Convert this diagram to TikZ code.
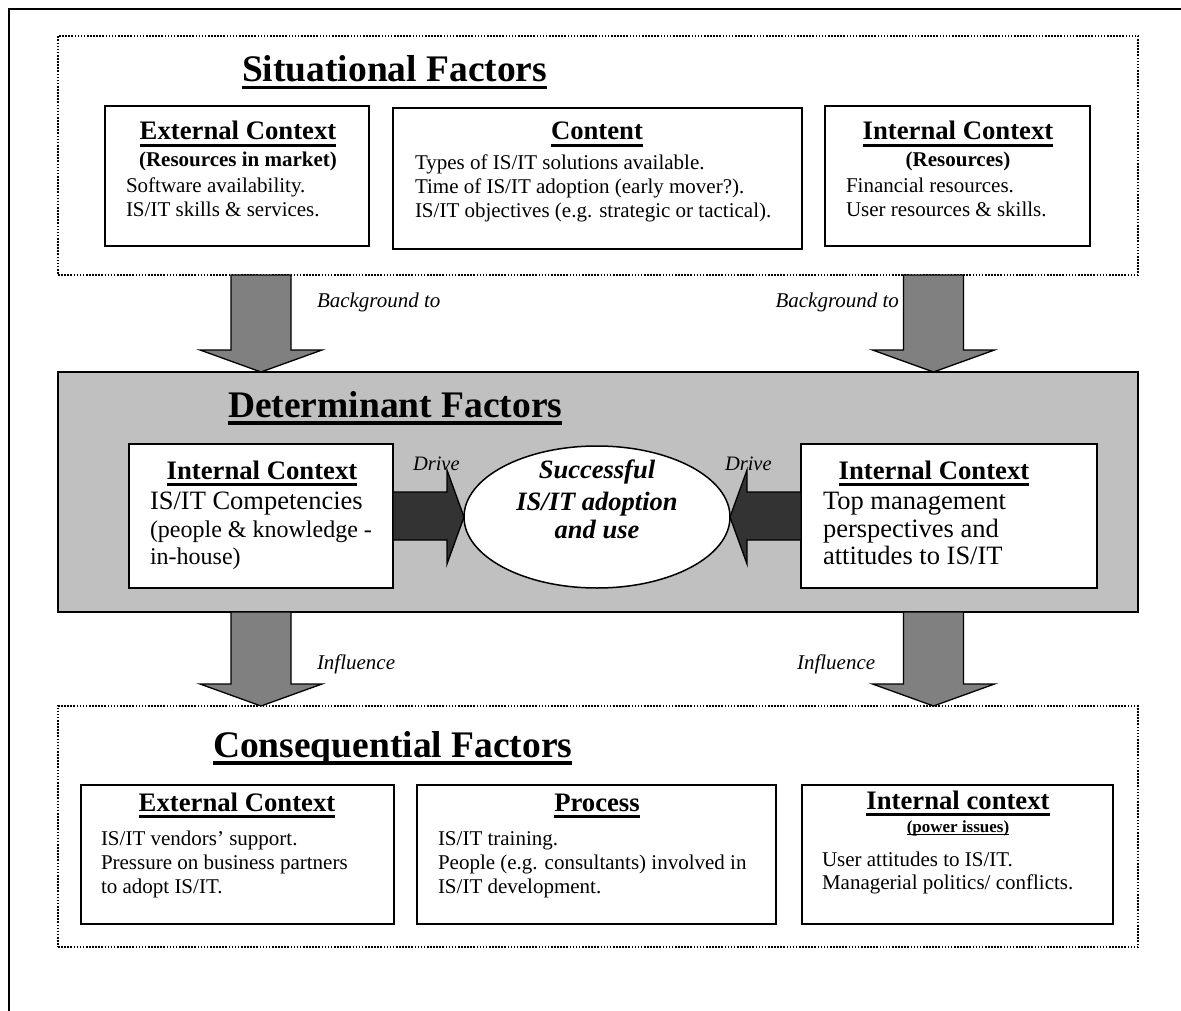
\documentclass[tikz,border=0pt]{standalone}
\usepackage{fontspec}
\setmainfont{Liberation Serif}
\usetikzlibrary{shapes.geometric}

% font sizes (1 unit = 1pt)
\newcommand\fTitle{\fontsize{37.5}{40}\selectfont\bfseries}
\newcommand\fHead{\fontsize{26.7}{30}\selectfont\bfseries}
\newcommand\fSub{\fontsize{21}{24}\selectfont\bfseries}
\newcommand\fBody{\fontsize{21}{24}\selectfont}
\newcommand\fBig{\fontsize{26.5}{28}\selectfont}
\newcommand\fMid{\fontsize{24}{27}\selectfont}
\newcommand\fEll{\fontsize{26.5}{30}\selectfont\bfseries\itshape}
\newcommand\fLab{\fontsize{21}{24}\selectfont\itshape}

% underlined text: #1 = depth of rule bottom, #2 = thickness, #3 = text
\newcommand\ulx[3]{\setbox0\hbox{#3}\rlap{\rule[-#1]{\wd0}{#2}}\box0}
\newcommand\ulTitle[1]{\ulx{0.2em}{0.1em}{#1}}
\newcommand\ulHead[1]{\ulx{0.245em}{0.11em}{#1}}

% block arrow pointing down: centre x, top y, tip y
\newcommand\downblock[3]{%
  \filldraw[blockarrow] (#1-30,#2) -- (#1+30,#2) -- (#1+30,#3-22) -- (#1+61,#3-22)
    -- (#1,#3) -- (#1-61,#3-22) -- (#1-30,#3-22) -- cycle;}

\definecolor{panelgray}{HTML}{C0C0C0}
\definecolor{arrowgray}{HTML}{808080}
\definecolor{drivedark}{HTML}{333333}

\tikzset{
  frame/.style={draw=black, line width=1.6pt},
  dotpanel/.style={draw=black, line width=1.6pt, dash pattern=on 1.6pt off 1.5pt,
    rectangle, anchor=north west},
  greypanel/.style={draw=black, fill=panelgray, line width=1.5pt, rectangle, anchor=north west},
  box/.style={draw=black, fill=white, line width=2pt, rectangle, anchor=north west},
  blockarrow/.style={fill=arrowgray, draw=black, line width=1.3pt, line join=miter},
  drivearrow/.style={fill=drivedark, draw=black, line width=1.3pt, line join=miter},
  lt/.style={anchor=base west},
  ct/.style={anchor=base},
}

\begin{document}
\begin{tikzpicture}[x=1pt,y=-1pt, every node/.style={inner sep=0pt, outer sep=0pt}]
\useasboundingbox (0,0) rectangle (1181,1011);

% outer frame
\draw[frame] (9,1011) -- (9,9) -- (1181,9);

% ---------- Situational factors ----------
\node[dotpanel, minimum width=1080, minimum height=239] (sit) at (58,36) {};
\node[lt] (sitTitle) at (242,82) {\fTitle\ulTitle{Situational Factors}};

\node[box, minimum width=264, minimum height=140] (sitExt) at (105,106) {};
\node[ct] (sitExtH) at (238,140) {\fHead\ulHead{External Context}};
\node[ct] (sitExtS) at (238,167) {\fSub (Resources in market)};
\node[lt] (sitExt1) at (126,193) {\fBody Software availability.};
\node[lt] (sitExt2) at (126,217) {\fBody IS/IT skills \& services.};

\node[box, minimum width=409, minimum height=141] (sitCon) at (393,108) {};
\node[ct] (sitConH) at (597,140) {\fHead\ulHead{Content}};
\node[lt] (sitCon1) at (415,170) {\fBody Types of IS/IT solutions available.};
\node[lt] (sitCon2) at (415,194) {\fBody Time of IS/IT adoption (early mover?).};
\node[lt] (sitCon3) at (415,218) {\fBody IS/IT objectives (e.g. strategic or tactical).};

\node[box, minimum width=265, minimum height=140] (sitInt) at (825,106) {};
\node[ct] (sitIntH) at (958,140) {\fHead\ulHead{Internal Context}};
\node[ct] (sitIntS) at (958,167) {\fSub (Resources)};
\node[lt] (sitInt1) at (846,193) {\fBody Financial resources.};
\node[lt] (sitInt2) at (846,217) {\fBody User resources \&\ skills.};

% ---------- Determinant factors ----------
\node[greypanel, minimum width=1080, minimum height=240] (det) at (58,372) {};
\node[lt] (detTitle) at (228,417) {\fTitle\ulTitle{Determinant Factors}};

\node[box, minimum width=264, minimum height=144] (detL) at (129,444) {};
\node[ct] (detLH) at (262,479) {\fHead\ulHead{Internal Context}};
\node[lt] (detL1) at (150,509) {\fBig IS/IT Competencies};
\node[lt] (detL2) at (150,537) {\fMid (people \& knowledge -};
\node[lt] (detL3) at (150,564) {\fMid in-house)};

\node[box, minimum width=296, minimum height=144] (detR) at (801,444) {};
\node[ct] (detRH) at (934,479) {\fHead\ulHead{Internal Context}};
\node[lt] (detR1) at (823,509) {\fBig Top management};
\node[lt] (detR2) at (823,537) {\fBig perspectives and};
\node[lt] (detR3) at (823,564) {\fBig attitudes to IS/IT};

\node[ellipse, draw=black, fill=white, line width=1.5pt,
      minimum width=266, minimum height=142] (goal) at (597,517) {};
\node[ct] (goal1) at (597,478) {\fEll Successful};
\node[ct] (goal2) at (597,510) {\fEll IS/IT adoption};
\node[ct] (goal3) at (597,538) {\fEll and use};

% drive arrows into the ellipse
\filldraw[drivearrow] (detL.east |- 0,492) -- (447,492) -- (447,470) -- (goal.west)
  -- (447,564) -- (447,540) -- (detL.east |- 0,540) -- cycle;
\filldraw[drivearrow] (detR.west |- 0,492) -- (747,492) -- (747,470) -- (goal.east)
  -- (747,564) -- (747,540) -- (detR.west |- 0,540) -- cycle;
\node[lt] (driveL) at (413,470) {\fontsize{20.5}{22}\selectfont\itshape Drive};
\node[lt] (driveR) at (725,470) {\fontsize{20.5}{22}\selectfont\itshape Drive};

% ---------- arrows between the panels ----------
\downblock{261}{275}{372}
\downblock{933.5}{275}{372}
\node[lt] (bgL) at (317,307) {\fLab Background to};
\node[anchor=base east] (bgR) at (899,307) {\fLab Background to};

\downblock{261}{612}{706}
\downblock{933.5}{612}{706}
\node[lt] (infL) at (317,669) {\fLab Influence};
\node[lt] (infR) at (797,669) {\fLab Influence};

% ---------- Consequential factors ----------
\node[dotpanel, minimum width=1080, minimum height=241] (con) at (58,706) {};
\node[lt] (conTitle) at (213,757) {\fTitle\ulTitle{Consequential Factors}};

\node[box, minimum width=313, minimum height=139] (conExt) at (81,785) {};
\node[ct] (conExtH) at (237,811) {\fHead\ulHead{External Context}};
\node[lt] (conExt1) at (101,845) {\fBody IS/IT vendors’ support.};
\node[lt] (conExt2) at (101,869) {\fBody Pressure on business partners};
\node[lt] (conExt3) at (101,893) {\fBody to adopt IS/IT.};

\node[box, minimum width=359, minimum height=139] (conPro) at (417,785) {};
\node[ct] (conProH) at (597,811) {\fHead\ulHead{Process}};
\node[lt] (conPro1) at (438,845) {\fBody IS/IT training.};
\node[lt] (conPro2) at (438,869) {\fBody People (e.g. consultants) involved in};
\node[lt] (conPro3) at (438,893) {\fBody IS/IT development.};

\node[box, minimum width=311, minimum height=139] (conInt) at (802,785) {};
\node[ct] (conIntH) at (958,809) {\fHead\ulHead{Internal context}};
\node[ct] (conIntS) at (958,832) {\fontsize{17}{20}\selectfont\bfseries\ulx{0.2em}{0.1em}{(power issues)}};
\node[lt] (conInt1) at (822,866) {\fBody User attitudes to IS/IT.};
\node[lt] (conInt2) at (822,889) {\fBody Managerial politics/ conflicts.};
\end{tikzpicture}
\end{document}
